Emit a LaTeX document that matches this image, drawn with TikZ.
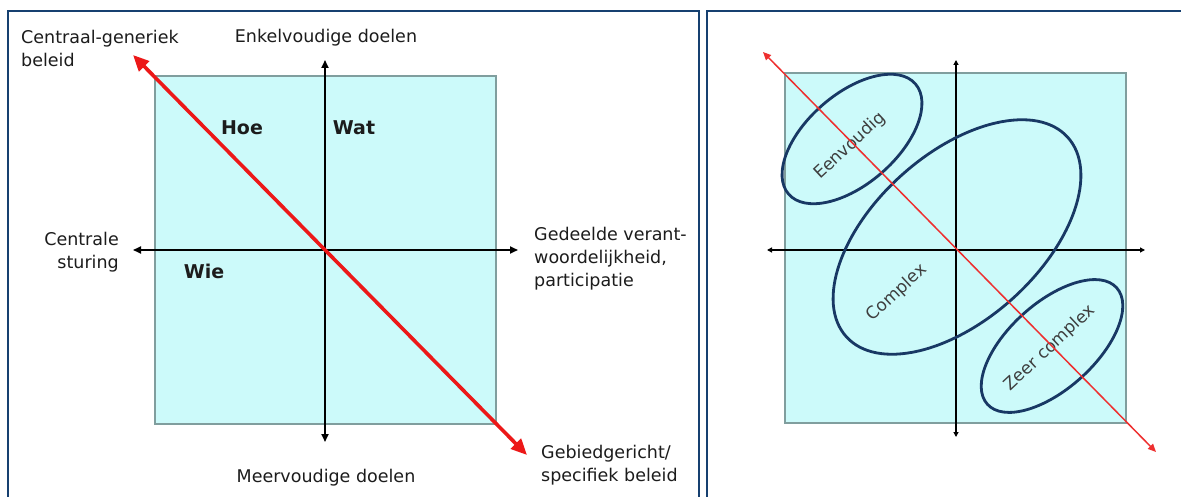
\documentclass[tikz,border=0pt]{standalone}
\usepackage{fontspec}
\setmainfont{DejaVu Sans}
\usepackage{tikz}
\usetikzlibrary{arrows.meta,shapes.geometric}
\definecolor{framecol}{RGB}{22,64,112}
\definecolor{quadfill}{RGB}{204,250,250}
\definecolor{quadline}{RGB}{128,158,158}
\definecolor{blobcol}{RGB}{24,56,100}
\definecolor{policyred}{RGB}{236,24,24}
\definecolor{textcol}{RGB}{28,28,28}

\begin{document}
\begin{tikzpicture}[
    x=1pt,y=-1pt,
    >=Triangle,
    frame/.style={draw=framecol,line width=2.5pt},
    quad/.style={fill=quadfill,draw=quadline,line width=1.5pt},
    axis/.style={<->,line width=1.8pt,>={Triangle[length=8pt,width=7pt]}},
    thinaxis/.style={<->,line width=1.3pt,>={Triangle[length=5pt,width=5pt]}},
    policy/.style={<->,draw=policyred,line width=3.6pt,>={Triangle[length=16pt,width=14pt]}},
    thinpolicy/.style={<->,draw=policyred!90!white,line width=1.5pt,>={Triangle[length=8pt,width=7pt]}},
    blob/.style={ellipse,draw=blobcol,line width=2.8pt},
    lbl/.style={inner sep=0pt,text=textcol,font=\fontsize{17.5}{23}\selectfont},
    key/.style={inner sep=0pt,text=textcol,font=\fontsize{19}{23}\selectfont\bfseries},
    tag/.style={inner sep=0pt,rotate=43,text=textcol!85!white,font=\fontsize{17}{20}\selectfont}
]

\useasboundingbox (0,0) rectangle (1181,497);
\fill[white] (0,0) rectangle (1181,497);

% left panel
\draw[frame] (8,500) |- (699,11) -- (699,500);
\path[quad] (155,76) rectangle (496,424);

\coordinate (N) at (325,60);
\coordinate (S) at (325,442);
\coordinate (W) at (133,250);
\coordinate (E) at (518,250);
\coordinate (NW) at (133,55);
\coordinate (SE) at (527,455);

\draw[axis]
(S) -- (N);

\draw[axis]
(W) -- (E);

\draw[policy]
(SE) -- (NW);

\node[lbl,anchor=north west,align=left] (generic) at (21,29.7) {Centraal-generiek\\beleid};
\node[lbl,anchor=base] (single) at (326,43) {Enkelvoudige doelen};
\node[lbl,anchor=north east,align=right] (central) at (119,231.7) {Centrale\\sturing};
\node[lbl,anchor=north west,align=left] (shared) at (534,226.7) {Gedeelde verant-\\woordelijkheid,\\participatie};
\node[lbl,anchor=base] (multiple) at (326,482) {Meervoudige doelen};
\node[lbl,anchor=north west,align=left] (specific) at (541,444.7) {Gebiedgericht/\\specifiek beleid};

\node[key,anchor=base] (how) at (242,135) {Hoe};
\node[key,anchor=base] (what) at (354,135) {Wat};
\node[key,anchor=base] (who) at (204,278) {Wie};

% right panel
\draw[frame] (707,500) |- (1185,11);
\path[quad] (785,73) rectangle (1126,423);

\coordinate (n) at (956,60);
\coordinate (s) at (956,437);
\coordinate (w) at (767,250);
\coordinate (e) at (1145,250);
\coordinate (nw) at (763,52);
\coordinate (se) at (1156,452);

\draw[thinaxis]
(s) -- (n);

\draw[thinaxis]
(w) -- (e);

\node[blob,minimum width=168pt,minimum height=90pt,rotate=41] (simple) at (852,139) {};
\node[blob,minimum width=298pt,minimum height=166pt,rotate=42] (complex) at (957,237) {};
\node[blob,minimum width=174pt,minimum height=86pt,rotate=42] (vcomplex) at (1052,346) {};

\node[tag] (simpletxt) at (850,146) {Eenvoudig};
\node[tag] (complextxt) at (897,293) {Complex};
\node[tag] (vcomplextxt) at (1050,348) {Zeer complex};

\draw[thinpolicy]
(se) -- (nw);

\end{tikzpicture}
\end{document}
